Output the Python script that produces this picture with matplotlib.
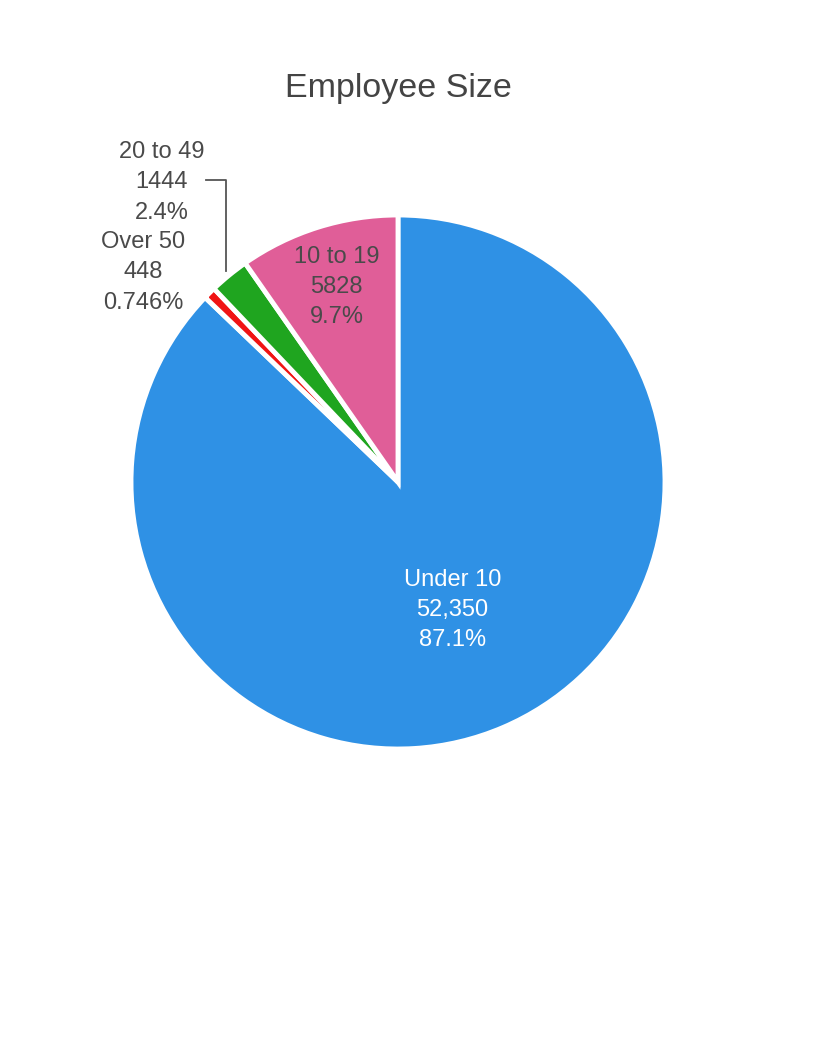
import numpy as np
import matplotlib
matplotlib.use("Agg")
from matplotlib import pyplot as plt

# data (clockwise from 12 o'clock)
labels = ["Under 10", "Over 50", "20 to 49", "10 to 19"]
values = [52350, 448, 1444, 5828]
value_txt = ["52,350", "448", "1444", "5828"]
pct_txt = ["87.1%", "0.746%", "2.4%", "9.7%"]
colors = ["#2f91e5", "#f01414", "#1fa51f", "#e05e98"]

plt.rcParams['font.family'] = ['Liberation Sans', 'DejaVu Sans']

fig = plt.figure(figsize=(8.16, 10.56), dpi=100)
W, H = 816.0, 1056.0
cx, cy, R = 398.0, 482.0, 267.0
ax = fig.add_axes([(cx - R) / W, (H - cy - R) / H, 2 * R / W, 2 * R / H])

wedges, _ = ax.pie(values, colors=colors, startangle=90, counterclock=False,
                   radius=1.0, wedgeprops=dict(edgecolor="white", linewidth=3.5))
ax.set_xlim(-1, 1)
ax.set_ylim(-1, 1)
ax.set_aspect("equal")
ax.axis("off")

txtcol = "#4a4a4a"
fs = 17
ls = 1.48

def mid(w):
    return np.deg2rad((w.theta1 + w.theta2) / 2)

# inside labels
for i, r, col in [(0, 0.52, "white"), (3, 0.765, txtcol)]:
    a = mid(wedges[i])
    ax.text(r * np.cos(a), r * np.sin(a),
            labels[i] + "\n" + value_txt[i] + "\n" + pct_txt[i],
            ha="center", va="center", color=col, fontsize=fs,
            linespacing=ls)

# outside labels
ax.text(-0.955, 0.785, labels[1] + "\n" + value_txt[1] + "\n" + pct_txt[1],
        ha="center", va="center", color=txtcol, fontsize=fs, linespacing=ls)
ax.text(-0.885, 1.122, labels[2] + "\n" + value_txt[2] + "\n" + pct_txt[2],
        ha="center", va="center", color=txtcol, fontsize=fs, linespacing=ls,
        clip_on=False)
ax.plot([-0.72, -0.645, -0.645], [1.13, 1.13, 0.79], color="#555555",
        lw=1.3, clip_on=False)

fig.text(cx / W, 1 - 88 / H, "Employee Size", ha="center", va="center",
         fontsize=24.5, color="#444444")

fig.savefig("out.png", dpi=100, facecolor="white")
